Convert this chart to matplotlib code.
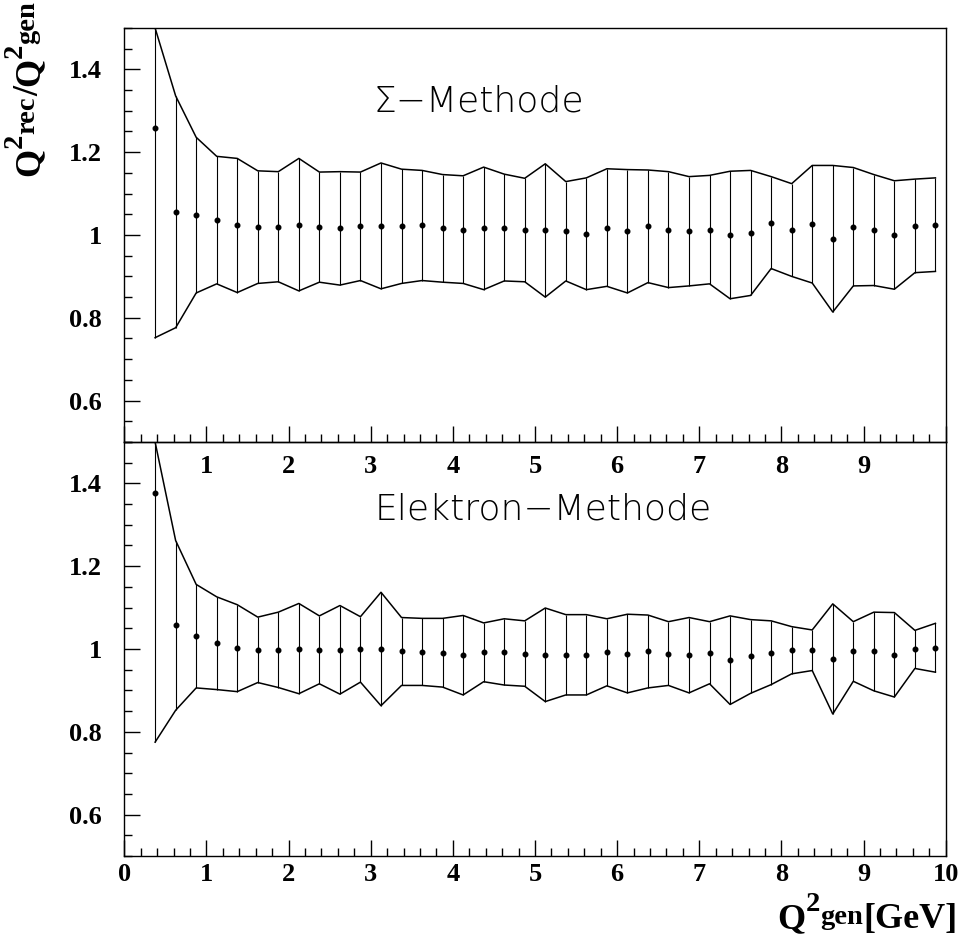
import numpy as np
import matplotlib
matplotlib.use("Agg")
import matplotlib.pyplot as plt
from matplotlib.ticker import MultipleLocator, FixedLocator, FixedFormatter
from matplotlib.transforms import IdentityTransform

# ---------------- data ----------------
q2_gen = [0.375, 0.625, 0.875, 1.125, 1.375, 1.625, 1.875, 2.125, 2.375, 2.625,
          2.875, 3.125, 3.375, 3.625, 3.875, 4.125, 4.375, 4.625, 4.875, 5.125,
          5.375, 5.625, 5.875, 6.125, 6.375, 6.625, 6.875, 7.125, 7.375, 7.625,
          7.875, 8.125, 8.375, 8.625, 8.875, 9.125, 9.375, 9.625, 9.875]

sigma_ratio = [1.259, 1.056, 1.048, 1.036, 1.023, 1.019, 1.020, 1.025, 1.019, 1.016,
               1.021, 1.022, 1.021, 1.023, 1.016, 1.013, 1.016, 1.018, 1.012, 1.011,
               1.009, 1.003, 1.018, 1.009, 1.021, 1.013, 1.009, 1.013, 1.000, 1.005,
               1.030, 1.012, 1.026, 0.991, 1.020, 1.012, 1.000, 1.022, 1.025]
sigma_err = [0.507, 0.280, 0.188, 0.154, 0.162, 0.136, 0.133, 0.160, 0.133, 0.137,
             0.131, 0.152, 0.138, 0.133, 0.130, 0.130, 0.148, 0.129, 0.125, 0.161,
             0.120, 0.135, 0.142, 0.149, 0.136, 0.140, 0.132, 0.131, 0.154, 0.151,
             0.111, 0.112, 0.142, 0.177, 0.143, 0.134, 0.131, 0.113, 0.113]

elec_ratio = [1.378, 1.057, 1.031, 1.014, 1.002, 0.998, 0.998, 1.001, 0.998, 0.998,
              0.999, 1.000, 0.994, 0.993, 0.991, 0.985, 0.992, 0.993, 0.989, 0.986,
              0.986, 0.986, 0.992, 0.989, 0.994, 0.989, 0.985, 0.991, 0.973, 0.982,
              0.991, 0.997, 0.997, 0.976, 0.994, 0.994, 0.986, 0.999, 1.003]
elec_err = [0.603, 0.205, 0.125, 0.112, 0.105, 0.079, 0.091, 0.109, 0.082, 0.107,
            0.079, 0.137, 0.082, 0.081, 0.083, 0.096, 0.071, 0.080, 0.079, 0.113,
            0.097, 0.097, 0.081, 0.095, 0.088, 0.077, 0.091, 0.075, 0.107, 0.089,
            0.077, 0.057, 0.049, 0.133, 0.072, 0.095, 0.102, 0.046, 0.059]

method_labels = ["\u03a3\u2212Methode", "Elektron\u2212Methode"]
top_xtick_labels = ["", "1", "2", "3", "4", "5", "6", "7", "8", "9", ""]
bottom_xtick_labels = ["0", "1", "2", "3", "4", "5", "6", "7", "8", "9", "10"]
ytick_values = [0.6, 0.8, 1.0, 1.2, 1.4]
ytick_labels = ["0.6", "0.8", "1", "1.2", "1.4"]

# ---------------- layout ----------------
W, H, DPI = 963, 938, 100
fig = plt.figure(figsize=(W / DPI, H / DPI), dpi=DPI)
fig.patch.set_facecolor("white")

SERIF = "Liberation Serif"
XMIN, XMAX, YMIN, YMAX = 0.0, 10.0, 0.5, 1.5

ax_l, ax_r = 124.3, 945.7
top_y0, mid_y, bot_y1 = 28.0, 442.0, 856.0
ax_top = fig.add_axes([ax_l / W, 1 - mid_y / H, (ax_r - ax_l) / W, (mid_y - top_y0) / H])
ax_bot = fig.add_axes([ax_l / W, 1 - bot_y1 / H, (ax_r - ax_l) / W, (bot_y1 - mid_y) / H])
ax_bot.patch.set_facecolor("none")


def draw_panel(ax, ratio, err, label, label_pos, label_size, xlabels, xpad):
    x = np.asarray(q2_gen)
    y = np.asarray(ratio)
    e = np.asarray(err)
    lo = np.clip(y - e, YMIN, YMAX)
    hi = np.clip(y + e, YMIN, YMAX)
    ax.set_xlim(XMIN, XMAX)
    ax.set_ylim(YMIN, YMAX)
    ax.vlines(x, lo, hi, colors="black", linewidth=0.8, zorder=2)
    ax.plot(x, hi, color="black", linewidth=1.1, zorder=3)
    ax.plot(x, lo, color="black", linewidth=1.1, zorder=3)
    ax.plot(x, y, "o", color="black", markersize=3.3, zorder=4)

    for sp in ax.spines.values():
        sp.set_linewidth(1.0)
        sp.set_color("black")
    ax.xaxis.set_major_locator(FixedLocator(list(range(0, 11))))
    ax.xaxis.set_major_formatter(FixedFormatter(xlabels))
    ax.xaxis.set_minor_locator(MultipleLocator(0.2))
    ax.yaxis.set_major_locator(FixedLocator(ytick_values))
    ax.yaxis.set_major_formatter(FixedFormatter(ytick_labels))
    ax.yaxis.set_minor_locator(MultipleLocator(0.05))
    ax.tick_params(which="both", direction="in", top=False, right=False, width=1.0, color="black")
    ax.tick_params(which="major", length=11.5)
    ax.tick_params(which="minor", length=5.8)
    ax.tick_params(axis="x", which="major", pad=xpad)
    ax.tick_params(axis="y", which="major", pad=16)
    for t in ax.get_xticklabels() + ax.get_yticklabels():
        t.set_fontfamily(SERIF)
        t.set_fontweight("bold")
        t.set_fontsize(19)
    ax.text(label_pos[0], label_pos[1], label, fontsize=label_size,
            family=["DejaVu Sans"], fontweight="ultralight", color="black",
            ha="left", va="baseline", zorder=5)


draw_panel(ax_top, sigma_ratio, sigma_err, method_labels[0], (3.03, 1.298), 26,
           top_xtick_labels, 9)
draw_panel(ax_bot, elec_ratio, elec_err, method_labels[1], (3.05, 1.312), 26,
           bottom_xtick_labels, 5)


def place_pieces(pieces, anchor_x, anchor_y, rotation):
    """Lay out text pieces one after another; anchor is the END of the label
    (right end for horizontal, top end for vertical) on the main baseline."""
    r = fig.canvas.get_renderer()
    objs = []
    adv = 0.0
    for s, fs, rise in pieces:
        t = fig.text(0, 0, s, fontsize=fs, family=SERIF, fontweight="bold",
                     rotation=rotation, rotation_mode="anchor",
                     ha="left", va="baseline", transform=IdentityTransform())
        bb = t.get_window_extent(r)
        w = bb.width if rotation == 0 else bb.height
        objs.append((t, adv, rise * DPI / 72.0))
        adv += w
    total = adv
    for t, a, rp in objs:
        if rotation == 0:
            t.set_position((anchor_x - total + a, anchor_y + rp))
        else:
            t.set_position((anchor_x - rp, anchor_y - total + a))


MAIN, SUB = 26, 20.5
# x label  Q^2 gen [GeV]
place_pieces([("Q", MAIN, 0), ("2", SUB, 12), ("gen", SUB, 3), ("[GeV]", MAIN, 0)],
             957, H - 928, 0)
# y label  Q^2 rec / Q^2 gen
place_pieces([("Q", MAIN, 0), ("2", SUB, 12), ("rec", SUB, 3), ("/", MAIN, 0),
              ("Q", MAIN, 0), ("2", SUB, 12), ("gen", SUB, 3)],
             38, H - 1, 90)

fig.savefig("out.png", dpi=DPI, facecolor="white")
